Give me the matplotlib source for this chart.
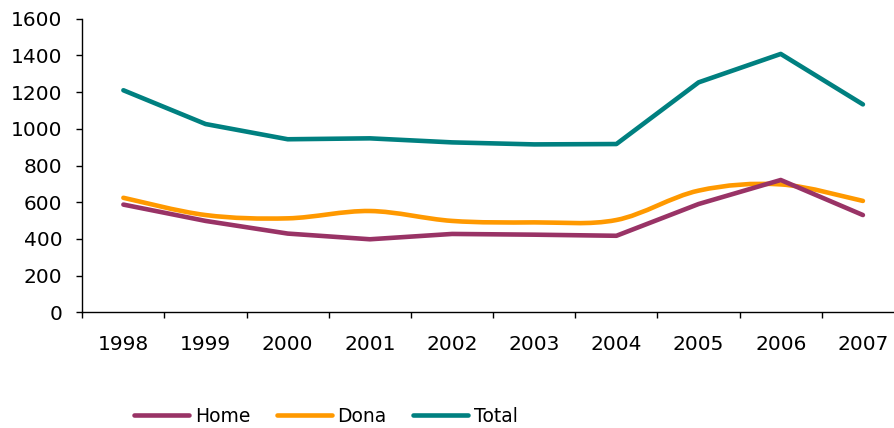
import matplotlib
matplotlib.use("Agg")
import matplotlib.pyplot as plt
import numpy as np
from matplotlib.path import Path
from matplotlib.patches import PathPatch
from matplotlib.lines import Line2D

years = ["1998", "1999", "2000", "2001", "2002", "2003", "2004", "2005", "2006", "2007"]
home  = [587, 498, 429, 398, 427, 423, 417, 590, 721, 530]
dona  = [624, 530, 512, 552, 498, 490, 503, 663, 697, 607]
total = [1210, 1026, 943, 948, 926, 915, 917, 1253, 1408, 1133]

C_HOME, C_DONA, C_TOTAL = "#993366", "#FF9900", "#008080"
LW = 3.3

plt.rcParams["font.family"] = ["DejaVu Sans"]

fig = plt.figure(figsize=(8.95, 4.28), dpi=100)
ax = fig.add_axes([82.3 / 895, 1 - 312.3 / 428, (904 - 82.3) / 895, (312.3 - 18.7) / 428])

x = np.arange(len(years))


def smooth_path(xs, ys):
    # excel-style smoothed line: bezier with catmull-rom control points
    pts = np.column_stack([xs, ys]).astype(float)
    n = len(pts)
    verts = [pts[0]]
    codes = [Path.MOVETO]
    for i in range(n - 1):
        p0 = pts[max(i - 1, 0)]
        p1 = pts[i]
        p2 = pts[i + 1]
        p3 = pts[min(i + 2, n - 1)]
        verts += [p1 + (p2 - p0) / 6, p2 - (p3 - p1) / 6, p2]
        codes += [Path.CURVE4] * 3
    return Path(verts, codes)


ax.plot(x, home, color=C_HOME, lw=LW, solid_capstyle="round", solid_joinstyle="round")
ax.add_patch(PathPatch(smooth_path(x, dona), fill=False, edgecolor=C_DONA, lw=LW,
                       capstyle="round", joinstyle="round"))
ax.plot(x, total, color=C_TOTAL, lw=LW, solid_capstyle="round", solid_joinstyle="round")

ax.set_xlim(-0.5, len(years) - 0.5)
ax.set_ylim(0, 1600)
ax.set_yticks(np.arange(0, 1601, 200))
ax.set_xticks(np.arange(-0.5, len(years), 1.0))
ax.set_xticklabels([])
ax.set_xticks(x, minor=True)
ax.set_xticklabels(years, minor=True)

ax.tick_params(axis="y", which="major", direction="out", length=6 / 1.389, width=1,
               labelsize=14.5, pad=10, color="#000000")
ax.tick_params(axis="x", which="major", direction="out", length=6 / 1.389, width=1)
ax.tick_params(axis="x", which="minor", length=0, labelsize=14.5, pad=16)

for s in ["top", "right"]:
    ax.spines[s].set_visible(False)
for s in ["left", "bottom"]:
    ax.spines[s].set_linewidth(1)
    ax.spines[s].set_color("#000000")

handles = [
    Line2D([], [], color=C_HOME, lw=LW, solid_capstyle="round"),
    Line2D([], [], color=C_DONA, lw=LW, solid_capstyle="round"),
    Line2D([], [], color=C_TOTAL, lw=LW, solid_capstyle="round"),
]
fig.legend(handles, ["Home", "Dona", "Total"], loc="center left",
           bbox_to_anchor=(134 / 895, 1 - 416 / 428), ncol=3, frameon=False,
           fontsize=13.5, handlelength=2.95, handletextpad=0.3, columnspacing=1.4,
           borderpad=0, borderaxespad=0)

fig.savefig("out.png", dpi=100)
